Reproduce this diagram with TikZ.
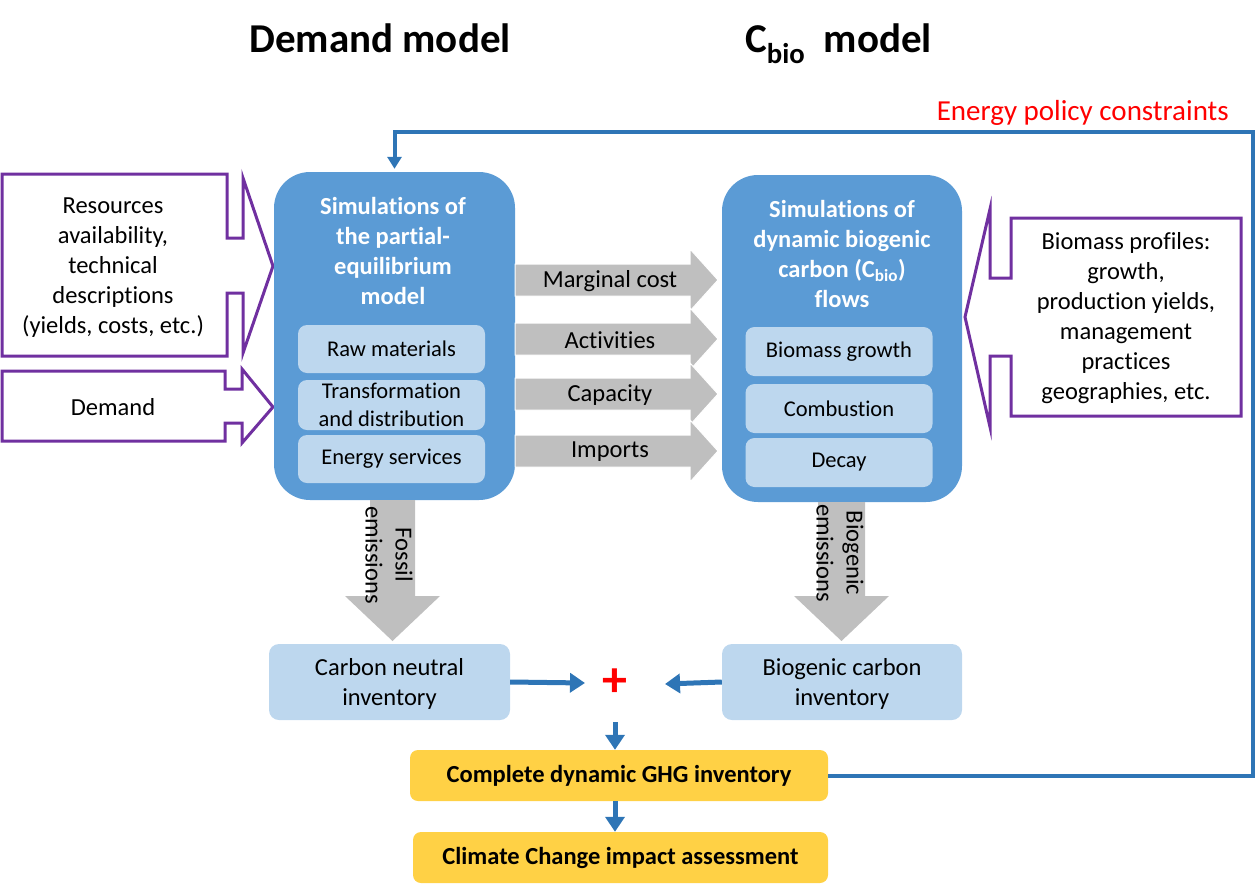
\documentclass[tikz,border=0pt]{standalone}
\usepackage{fontspec}
\setmainfont[Ligatures=NoCommon]{Carlito}
\usetikzlibrary{arrows.meta}
\definecolor{boxblue}{HTML}{5B9BD5}
\definecolor{subblue}{HTML}{BDD7EE}
\definecolor{arrowgray}{HTML}{BFBFBF}
\definecolor{calloutpurple}{HTML}{7030A0}
\definecolor{linkblue}{HTML}{2E75B6}
\definecolor{ghgyellow}{HTML}{FFD145}
\begin{document}
\begin{tikzpicture}[x=1pt,y=-1pt,
    every node/.style={font=\fontsize{24.5}{30}\selectfont, align=center, inner sep=0pt},
    bigbox/.style={fill=boxblue, rounded corners=36pt},
    subbox/.style={fill=subblue, rounded corners=9pt, minimum width=187pt, font=\fontsize{22.5}{28}\selectfont},
    invbox/.style={fill=subblue, rounded corners=10pt, minimum width=241pt, minimum height=76pt},
    heading/.style={font=\bfseries\fontsize{41}{48}\selectfont},
    boxtitle/.style={text=white, font=\bfseries\fontsize{24.5}{30}\selectfont},
    flow/.style={fill=arrowgray, draw=white, line width=1pt},
    callout/.style={draw=calloutpurple, fill=white, line width=3pt},
    link/.style={draw=linkblue, line width=5pt, -{Triangle[length=15pt,width=19pt]}},
    feedback/.style={draw=linkblue, line width=4pt, -{Triangle[length=12pt,width=14pt]}, shorten >=3pt},
    result/.style={fill=ghgyellow, rounded corners=8pt, minimum width=418pt, minimum height=51pt, font=\bfseries\fontsize{24.5}{30}\selectfont}]
        \useasboundingbox (0,0) rectangle (1256,889);

        \node[heading, anchor=base] (demandhead) at (380,52) {Demand model};
        \node[heading, anchor=base west] (cbiohead) at (745,52) {C\textsubscript{bio}\ \ model};

        \draw[callout] (2,174) -- (227,174) -- (227,238) -- (243,238) -- (243,178) -- (273,266) -- (243,353) -- (243,293) -- (227,293) -- (227,356) -- (2,356) -- cycle;
        \draw[callout] (2,371) -- (225,371) -- (225,389) -- (242,389) -- (242,369) -- (273,407) -- (242,443) -- (242,423) -- (225,423) -- (225,441) -- (2,441) -- cycle;
        \draw[callout] (1241,218) -- (1011,218) -- (1011,278) -- (990,278) -- (990,209) -- (965,317) -- (990,427) -- (990,356) -- (1011,356) -- (1011,416) -- (1241,416) -- cycle;
        \node (resources) at (113,268) {Resources\\availability,\\technical\\descriptions\\(yields, costs, etc.)};
        \node (demandin) at (113,407) {Demand};
        \node (biomass) at (1126,318) {Biomass profiles:\\growth,\\production yields,\\management\\practices\\geographies, etc.};

        \node[bigbox, minimum width=241pt, minimum height=328pt] (demand) at (394.5,336) {};
        \node[boxtitle] (demandtitle) at (393,251) {Simulations of\\the partial-\\equilibrium\\model};
        \node[subbox, minimum height=48pt] (raw) at (391.5,349) {Raw materials};
        \node[subbox, minimum height=50pt] (transf) at (391.5,405) {Transformation\\and distribution};
        \node[subbox, minimum height=48pt] (services) at (391.5,459) {Energy services};

        \node[bigbox, minimum width=240pt, minimum height=327pt] (cbio) at (842,338.5) {};
        \node[boxtitle] (cbiotitle) at (842,254) {Simulations of\\dynamic biogenic\\carbon (C\textsubscript{bio})\\flows};
        \node[subbox, minimum height=49pt] (growth) at (839,351.5) {Biomass growth};
        \node[subbox, minimum height=49pt] (combustion) at (839,408.5) {Combustion};
        \node[subbox, minimum height=49pt] (decay) at (839,462.5) {Decay};

        \foreach \y/\lab in {280/Marginal cost, 339/Activities, 394/Capacity, 451/Imports} {
            \filldraw[flow] (515,\y-16) -- (690,\y-16) -- (690,\y-31) -- (718,\y) -- (690,\y+31) -- (690,\y+16) -- (515,\y+16) -- cycle;
            \node (flow\y) at (610,\y+1) {\lab};
        }

        \fill[arrowgray] (370,500) -- (415,500) -- (415,596) -- (440,596) -- (392.5,641) -- (345,596) -- (370,596) -- cycle;
        \fill[arrowgray] (818,502) -- (865,502) -- (865,596) -- (889,596) -- (841.5,641) -- (794,596) -- (818,596) -- cycle;
        \node[rotate=-90] (fossil) at (389,555) {Fossil\\emissions};
        \node[rotate=-90] (biogenic) at (840,553) {Biogenic\\emissions};

        \node[invbox] (neutral) at (389.5,682) {};
        \node (neutraltext) at (389.5,684) {Carbon neutral\\inventory};
        \node[invbox, minimum width=240pt] (biocarbon) at (842,682) {};
        \node (biocarbontext) at (842,684) {Biogenic carbon\\inventory};
        \node[text=red, font=\bfseries\fontsize{50}{50}\selectfont] (plus) at (615,683) {+};
        \coordinate (plusin) at (585,683);
        \coordinate (plusout) at (665,684);
        \coordinate (plusdown) at (615,722);

        \node[result] (ghg) at (619,775.5) {Complete dynamic GHG inventory};
        \node[result, minimum width=415pt] (climate) at (620.5,857.5) {Climate Change impact assessment};

        \draw[link] (neutral.east) -- (plusin);
        \draw[link] (biocarbon.west) -- (plusout);
        \draw[link] (plusdown) -- (plusdown |- ghg.north);
        \draw[link] (ghg.south -| plusdown) -- (climate.north -| plusdown);

        \coordinate (fbcorner) at (1253,132);
        \draw[feedback] (ghg.east) -| (fbcorner) -| (demand.north);
        \node[text=red, anchor=east, font=\fontsize{29}{34}\selectfont] (policy) at (1229,113) {Energy policy constraints};
    \end{tikzpicture}
\end{document}
